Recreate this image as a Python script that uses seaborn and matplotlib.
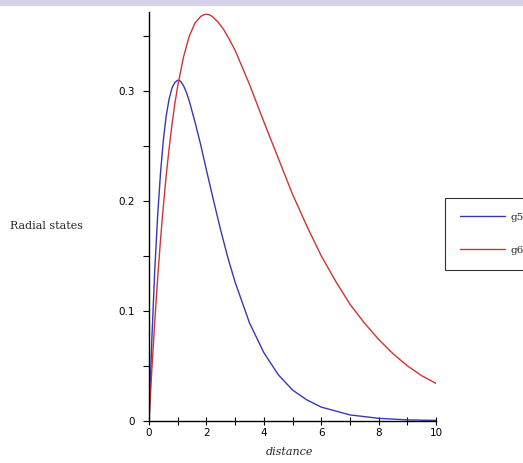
import numpy as np
import pandas as pd
import matplotlib
matplotlib.use("Agg")
import matplotlib.pyplot as plt
import seaborn as sns
from matplotlib.patches import Rectangle
from matplotlib.ticker import MultipleLocator

# %% Valores (estados radiales g5 y g6)
dist_g5 = [0, 0.1, 0.2, 0.3, 0.4, 0.5, 0.6, 0.7, 0.8, 0.9, 1.0, 1.1, 1.2, 1.3, 1.4, 1.6,
           1.8, 2.0, 2.25, 2.5, 2.75, 3.0, 3.5, 4.0, 4.5, 5.0, 5.5, 6.0, 7.0, 8.0, 9.0, 10.0]
g5 = [0, 0.076, 0.138, 0.187, 0.226, 0.256, 0.278, 0.293, 0.303, 0.308, 0.310, 0.309,
      0.305, 0.299, 0.291, 0.272, 0.251, 0.228, 0.200, 0.173, 0.148, 0.126, 0.089,
      0.062, 0.042, 0.028, 0.019, 0.0125, 0.0054, 0.0023, 0.0009, 0.0004]

dist_g6 = [0, 0.1, 0.2, 0.3, 0.4, 0.5, 0.6, 0.7, 0.8, 0.9, 1.0, 1.2, 1.4, 1.6, 1.8, 1.9,
           2.0, 2.1, 2.2, 2.4, 2.6, 2.8, 3.0, 3.5, 4.0, 4.5, 5.0, 5.5, 6.0, 6.5, 7.0,
           7.5, 8.0, 8.5, 9.0, 9.5, 10.0]
g6 = [0, 0.048, 0.091, 0.130, 0.165, 0.196, 0.224, 0.248, 0.270, 0.289, 0.305, 0.331,
      0.350, 0.362, 0.368, 0.3695, 0.370, 0.3695, 0.368, 0.363, 0.356, 0.347, 0.337,
      0.306, 0.272, 0.239, 0.206, 0.177, 0.150, 0.127, 0.106, 0.089, 0.074, 0.061,
      0.050, 0.041, 0.034]

xticks = [0, 2, 4, 6, 8, 10]
yticks = [0, 0.1, 0.2, 0.3]
ytick_labels = ["0", "0.1", "0.2", "0.3"]

# %% Grafico
sns.set_style("white")
fig = plt.figure(figsize=(5.23, 4.63), dpi=100)
ax = fig.add_axes([0.285, 0.091, 0.549, 0.883])

sns.lineplot(x=dist_g5, y=g5, color="#3838b4", linewidth=1.0, label="g5", ax=ax)
sns.lineplot(x=dist_g6, y=g6, color="#cc3535", linewidth=1.0, label="g6", ax=ax)

ax.set_xlim(0, 10)
ax.set_ylim(0, 0.372)
ax.set_xticks(xticks)
ax.set_xticklabels([str(t) for t in xticks], fontsize=7.5, family="DejaVu Sans")
ax.set_yticks(yticks)
ax.set_yticklabels(ytick_labels, fontsize=7.5, family="DejaVu Sans")
ax.xaxis.set_minor_locator(MultipleLocator(1))
ax.yaxis.set_minor_locator(MultipleLocator(0.05))
ax.tick_params(axis="x", which="both", direction="inout", length=6, width=0.8,
               bottom=True, pad=2, colors="black")
ax.tick_params(axis="y", which="both", direction="out", length=4, width=0.8,
               left=True, pad=6, colors="black")
ax.set_xlabel("")
ax.set_ylabel("")
for lado in ["top", "right"]:
    ax.spines[lado].set_visible(False)
for lado in ["left", "bottom"]:
    ax.spines[lado].set_color("black")
    ax.spines[lado].set_linewidth(1.0)

fig.text(10 / 523, 1 - 226 / 463, "Radial states", fontsize=8, family="DejaVu Serif",
         va="center", ha="left")
fig.text(290 / 523, 1 - 452 / 463, "distance", fontsize=8, family="DejaVu Serif",
         style="italic", ha="center", va="center")

leg = ax.legend(loc="upper left", bbox_to_anchor=(445 / 523, 1 - 198 / 463),
                bbox_transform=fig.transFigure, frameon=True, fancybox=False,
                prop={"family": "DejaVu Serif", "size": 7.5}, handlelength=4.4,
                borderpad=1.4, labelspacing=2.3, handletextpad=0.5, borderaxespad=0)
leg.get_frame().set_edgecolor("black")
leg.get_frame().set_linewidth(0.8)
leg.set_clip_on(False)

# franja superior del fondo de la diapositiva
fig.patches.append(Rectangle((0, 1 - 6 / 463), 1, 6 / 463, transform=fig.transFigure,
                             facecolor="#d5d1ea", edgecolor="none", zorder=0))

fig.savefig("out.png", dpi=100)
